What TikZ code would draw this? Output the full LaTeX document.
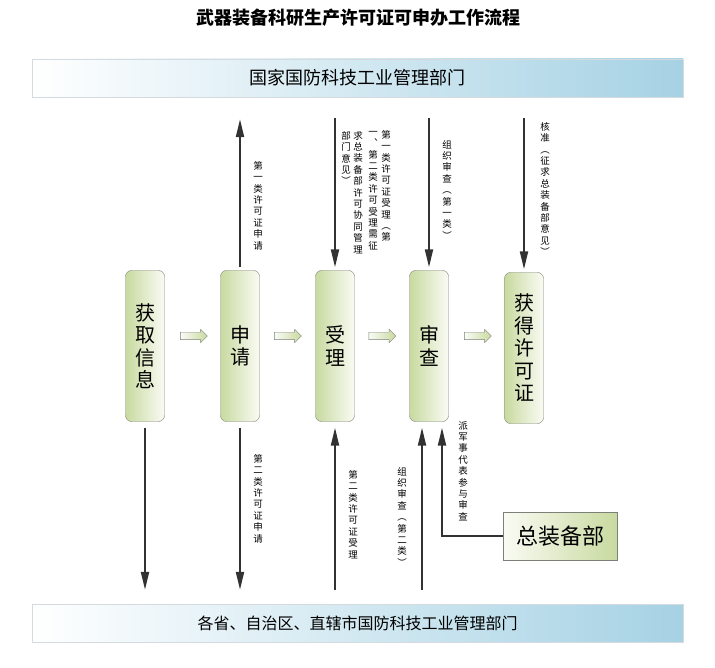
\documentclass[tikz,border=0pt]{standalone}
\usepackage{fontspec}
\setmainfont{Noto Sans CJK SC}
\usepackage{tikz}
\usetikzlibrary{calc, shapes.arrows, arrows.meta}

\definecolor{verdecx}{RGB}{200,218,160}
\definecolor{claro}{RGB}{250,251,244}
\definecolor{azulfx}{RGB}{166,210,228}
\definecolor{bordafx}{RGB}{212,218,222}
\definecolor{cinzacx}{RGB}{125,128,120}
\definecolor{escuro}{RGB}{50,50,50}

% texto em coluna
\newcommand\pilha[1]{\vbox{\pilhaaux#1\relax}}
\def\pilhaaux#1{\ifx\relax#1\else\hbox to 1em{\hss#1\hss}\expandafter\pilhaaux\fi}

\tikzset{
  faixa/.style={draw=bordafx, left color=white, right color=azulfx, minimum width=651pt, minimum height=38pt, inner sep=0pt},
  caixa/.style={draw=cinzacx, rounded corners=6pt, left color=verdecx, right color=claro, minimum width=39pt, minimum height=151pt, inner sep=0pt, font=\fontsize{20}{22.5}\selectfont},
  setinha/.style={single arrow, draw=cinzacx, left color=claro, right color=verdecx, minimum height=27pt, minimum width=13pt, single arrow head extend=3pt, inner xsep=0pt, inner ysep=3.5pt},
  seta/.style={draw=escuro, line width=2pt, -{Triangle[length=18pt,width=8pt]}},
  rotulo/.style={anchor=north, inner sep=0pt, font=\fontsize{9.5}{11.4}\selectfont},
}

\begin{document}
\begin{tikzpicture}[x=1pt, y=-1pt]
\useasboundingbox (0,0) rectangle (715,668);
% Título
\node[font=\fontsize{18}{20}\selectfont\bfseries] (titulo) at (358,18) {武器装备科研生产许可证可申办工作流程};
% Faixas
\node[faixa, font=\fontsize{18}{20}\selectfont] (topo) at (357.5,78) {国家国防科技工业管理部门};
\node[faixa, font=\fontsize{16}{18}\selectfont] (base) at (357.5,623) {各省、自治区、直辖市国防科技工业管理部门};
% Caixas
\node[caixa] (info) at (145,346) {\pilha{获取信息}};
\node[caixa] (sq) at (240,346) {\pilha{申请}};
\node[caixa] (sl) at (335,346) {\pilha{受理}};
\node[caixa] (sc) at (429,346) {\pilha{审查}};
\node[caixa] (lic) at (524,348) {\pilha{获得许可证}};
\node[caixa, rounded corners=0pt, left color=claro, right color=verdecx, minimum width=114pt, minimum height=48pt, font=\fontsize{22}{24}\selectfont] (zb) at (560,536) {总装备部};
% Setinhas
\node[setinha] (s1) at (192,336) {};
\node[setinha] (s2) at (286,336) {};
\node[setinha] (s3) at (380.5,336) {};
\node[setinha] (s4) at (476,336) {};
% Setas de cima
\draw[seta, shorten <=3pt, shorten >=22pt] (sq.north) -- (sq.north |- topo.south);
\draw[seta, shorten <=21pt, shorten >=3pt] (sl.north |- topo.south) -- (sl.north);
\draw[seta, shorten <=21pt, shorten >=3pt] (sc.north |- topo.south) -- (sc.north);
\draw[seta, shorten <=21pt, shorten >=3pt] (lic.north |- topo.south) -- (lic.north);
% Setas de baixo
\coordinate (sc1) at ([xshift=-7pt]sc.south);
\coordinate (sc2) at ([xshift=13pt]sc.south);
\draw[seta, shorten <=6pt, shorten >=14pt] (info.south) -- (info.south |- base.north);
\draw[seta, shorten <=6pt, shorten >=14pt] (sq.south) -- (sq.south |- base.north);
\draw[seta, shorten <=14pt, shorten >=6pt] (sl.south |- base.north) -- (sl.south);
\draw[seta, shorten <=14pt, shorten >=6pt] (sc1 |- base.north) -- (sc1);
\draw[seta, shorten >=6pt] (zb.west) -| (sc2);
% Rótulos
\node[rotulo] (r1) at (258,161) {\pilha{第一类许可证申请}};
\node[rotulo] (r2a) at (386,130) {\pilha{第一类许可证受理︵第}};
\node[rotulo] (r2b) at (373,131) {\pilha{一︑第二类许可受理需征}};
\node[rotulo] (r2c) at (358,131) {\pilha{求总装备部许可协同管理}};
\node[rotulo] (r2d) at (346,131) {\pilha{部门意见︶}};
\node[rotulo] (r3) at (447,140) {\pilha{组织审查︵第一类︶}};
\node[rotulo] (r4) at (545,122) {\pilha{核准︵征求总装备部意见︶}};
\node[rotulo] (r5) at (258,454) {\pilha{第二类许可证申请}};
\node[rotulo] (r6) at (353,470) {\pilha{第二类许可证受理}};
\node[rotulo] (r7) at (402,467) {\pilha{组织审查︵第二类︶}};
\node[rotulo] (r8) at (463,421) {\pilha{派军事代表参与审查}};
\end{tikzpicture}
\end{document}
